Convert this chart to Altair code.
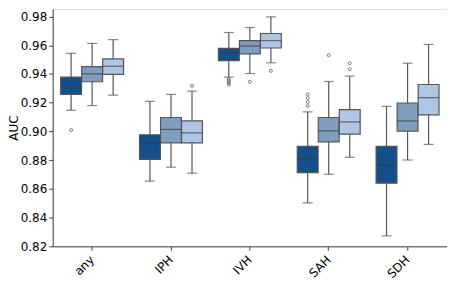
import altair as alt
import pandas as pd

categories = ["any", "IPH", "IVH", "SAH", "SDH"]
series = ["A", "B", "C"]
colors = ["#134f8b", "#7d9ebf", "#afc5e5"]
y_ticks = [0.82, 0.84, 0.86, 0.88, 0.90, 0.92, 0.94, 0.96, 0.98]

# per category: values for series A, B, C
lower = {
    "any": [0.9147, 0.9180, 0.9253],
    "IPH": [0.8654, 0.8751, 0.8709],
    "IVH": [0.9378, 0.9403, 0.9478],
    "SAH": [0.8502, 0.8702, 0.8820],
    "SDH": [0.8273, 0.8801, 0.8910],
}
q1 = {
    "any": [0.9258, 0.9346, 0.9397],
    "IPH": [0.8806, 0.8921, 0.8921],
    "IVH": [0.9493, 0.9540, 0.9581],
    "SAH": [0.8713, 0.8928, 0.8981],
    "SDH": [0.8640, 0.9002, 0.9115],
}
median = {
    "any": [0.9304, 0.9401, 0.9454],
    "IPH": [0.8917, 0.9014, 0.8990],
    "IVH": [0.9547, 0.9595, 0.9632],
    "SAH": [0.8806, 0.9004, 0.9066],
    "SDH": [0.8767, 0.9073, 0.9235],
}
q3 = {
    "any": [0.9378, 0.9452, 0.9505],
    "IPH": [0.8977, 0.9097, 0.9073],
    "IVH": [0.9579, 0.9632, 0.9682],
    "SAH": [0.8896, 0.9097, 0.9152],
    "SDH": [0.8896, 0.9198, 0.9327],
}
upper = {
    "any": [0.9544, 0.9613, 0.9639],
    "IPH": [0.9210, 0.9258, 0.9281],
    "IVH": [0.9689, 0.9724, 0.9798],
    "SAH": [0.9136, 0.9348, 0.9385],
    "SDH": [0.9175, 0.9475, 0.9606],
}
outliers = [
    ("any", "A", 0.9009),
    ("IPH", "C", 0.9318),
    ("IVH", "A", 0.9365), ("IVH", "A", 0.9352), ("IVH", "A", 0.9338), ("IVH", "A", 0.9325),
    ("IVH", "B", 0.9346),
    ("IVH", "C", 0.9422),
    ("SAH", "A", 0.9258), ("SAH", "A", 0.9232), ("SAH", "A", 0.9205), ("SAH", "A", 0.9177),
    ("SAH", "B", 0.9530),
    ("SAH", "C", 0.9475), ("SAH", "C", 0.9433),
]

rows = []
for c in categories:
    for i, s in enumerate(series):
        rows.append(dict(cat=c, ser=s, lower=lower[c][i], q1=q1[c][i],
                         median=median[c][i], q3=q3[c][i], upper=upper[c][i]))
df = pd.DataFrame(rows)
dfo = pd.DataFrame(outliers, columns=["cat", "ser", "val"])

line_col = "#555555"
x = alt.X("cat:N", sort=categories, title=None,
          scale=alt.Scale(paddingInner=0, paddingOuter=0),
          axis=alt.Axis(labelAngle=-45, labelAlign="right", labelBaseline="middle",
                        labelFontSize=12, labelColor="black", labelFont="DejaVu Sans",
                        labelPadding=7,
                        tickSize=4, tickColor="#444", domainColor="#444",
                        labelOverlap=False))
xo = alt.XOffset("ser:N", sort=series,
                 scale=alt.Scale(paddingInner=0, paddingOuter=0.375))
yscale = alt.Scale(domain=[0.82, 0.9853], nice=False, zero=False)
yaxis = alt.Axis(values=y_ticks,
                 format=".2f", grid=False, labelFontSize=12, labelColor="black",
                 labelFont="DejaVu Sans", tickSize=4, tickColor="#444", domainColor="#444",
                 labelOverlap=False, labelPadding=2,
                 title="AUC", titleFontSize=12, titleFont="DejaVu Sans",
                 titleFontWeight="normal", titleColor="black",
                 titleX=-35, titleY=119.5, titleBaseline="alphabetic", titleAlign="center")
color = alt.Color("ser:N", scale=alt.Scale(domain=series, range=colors), legend=None)

def Y(field):
    return alt.Y(field, scale=yscale, axis=yaxis, title="AUC")

base = alt.Chart(df)
whisk = base.mark_rule(color=line_col, strokeWidth=1.2).encode(
    x=x, xOffset=xo, y=Y("lower:Q"), y2="upper:Q")
box = base.mark_bar(size=21, stroke=line_col, strokeWidth=1.2).encode(
    x=x, xOffset=xo, y=Y("q1:Q"), y2="q3:Q", color=color)
med = base.mark_tick(size=21, thickness=1.2, color="#3a3a3a").encode(
    x=x, xOffset=xo, y=Y("median:Q"))
capl = base.mark_tick(size=10, thickness=1.2, color=line_col).encode(
    x=x, xOffset=xo, y=Y("lower:Q"))
capu = base.mark_tick(size=10, thickness=1.2, color=line_col).encode(
    x=x, xOffset=xo, y=Y("upper:Q"))
pts = alt.Chart(dfo).mark_point(shape="circle", filled=False, size=9,
                                color="#444", strokeWidth=1).encode(
    x=x, xOffset=xo, y=Y("val:Q"))

chart = alt.layer(whisk, box, med, capl, capu, pts).properties(
    width=397, height=239,
    autosize=alt.AutoSizeParams(type="none"),
    padding={"left": 45, "top": 0, "right": 0, "bottom": 40},
).configure_view(stroke=None).configure(background="white").configure_axisY(
    labelOverlap=False)

chart.save("out.html", embed_options={"renderer": "svg", "actions": False})
